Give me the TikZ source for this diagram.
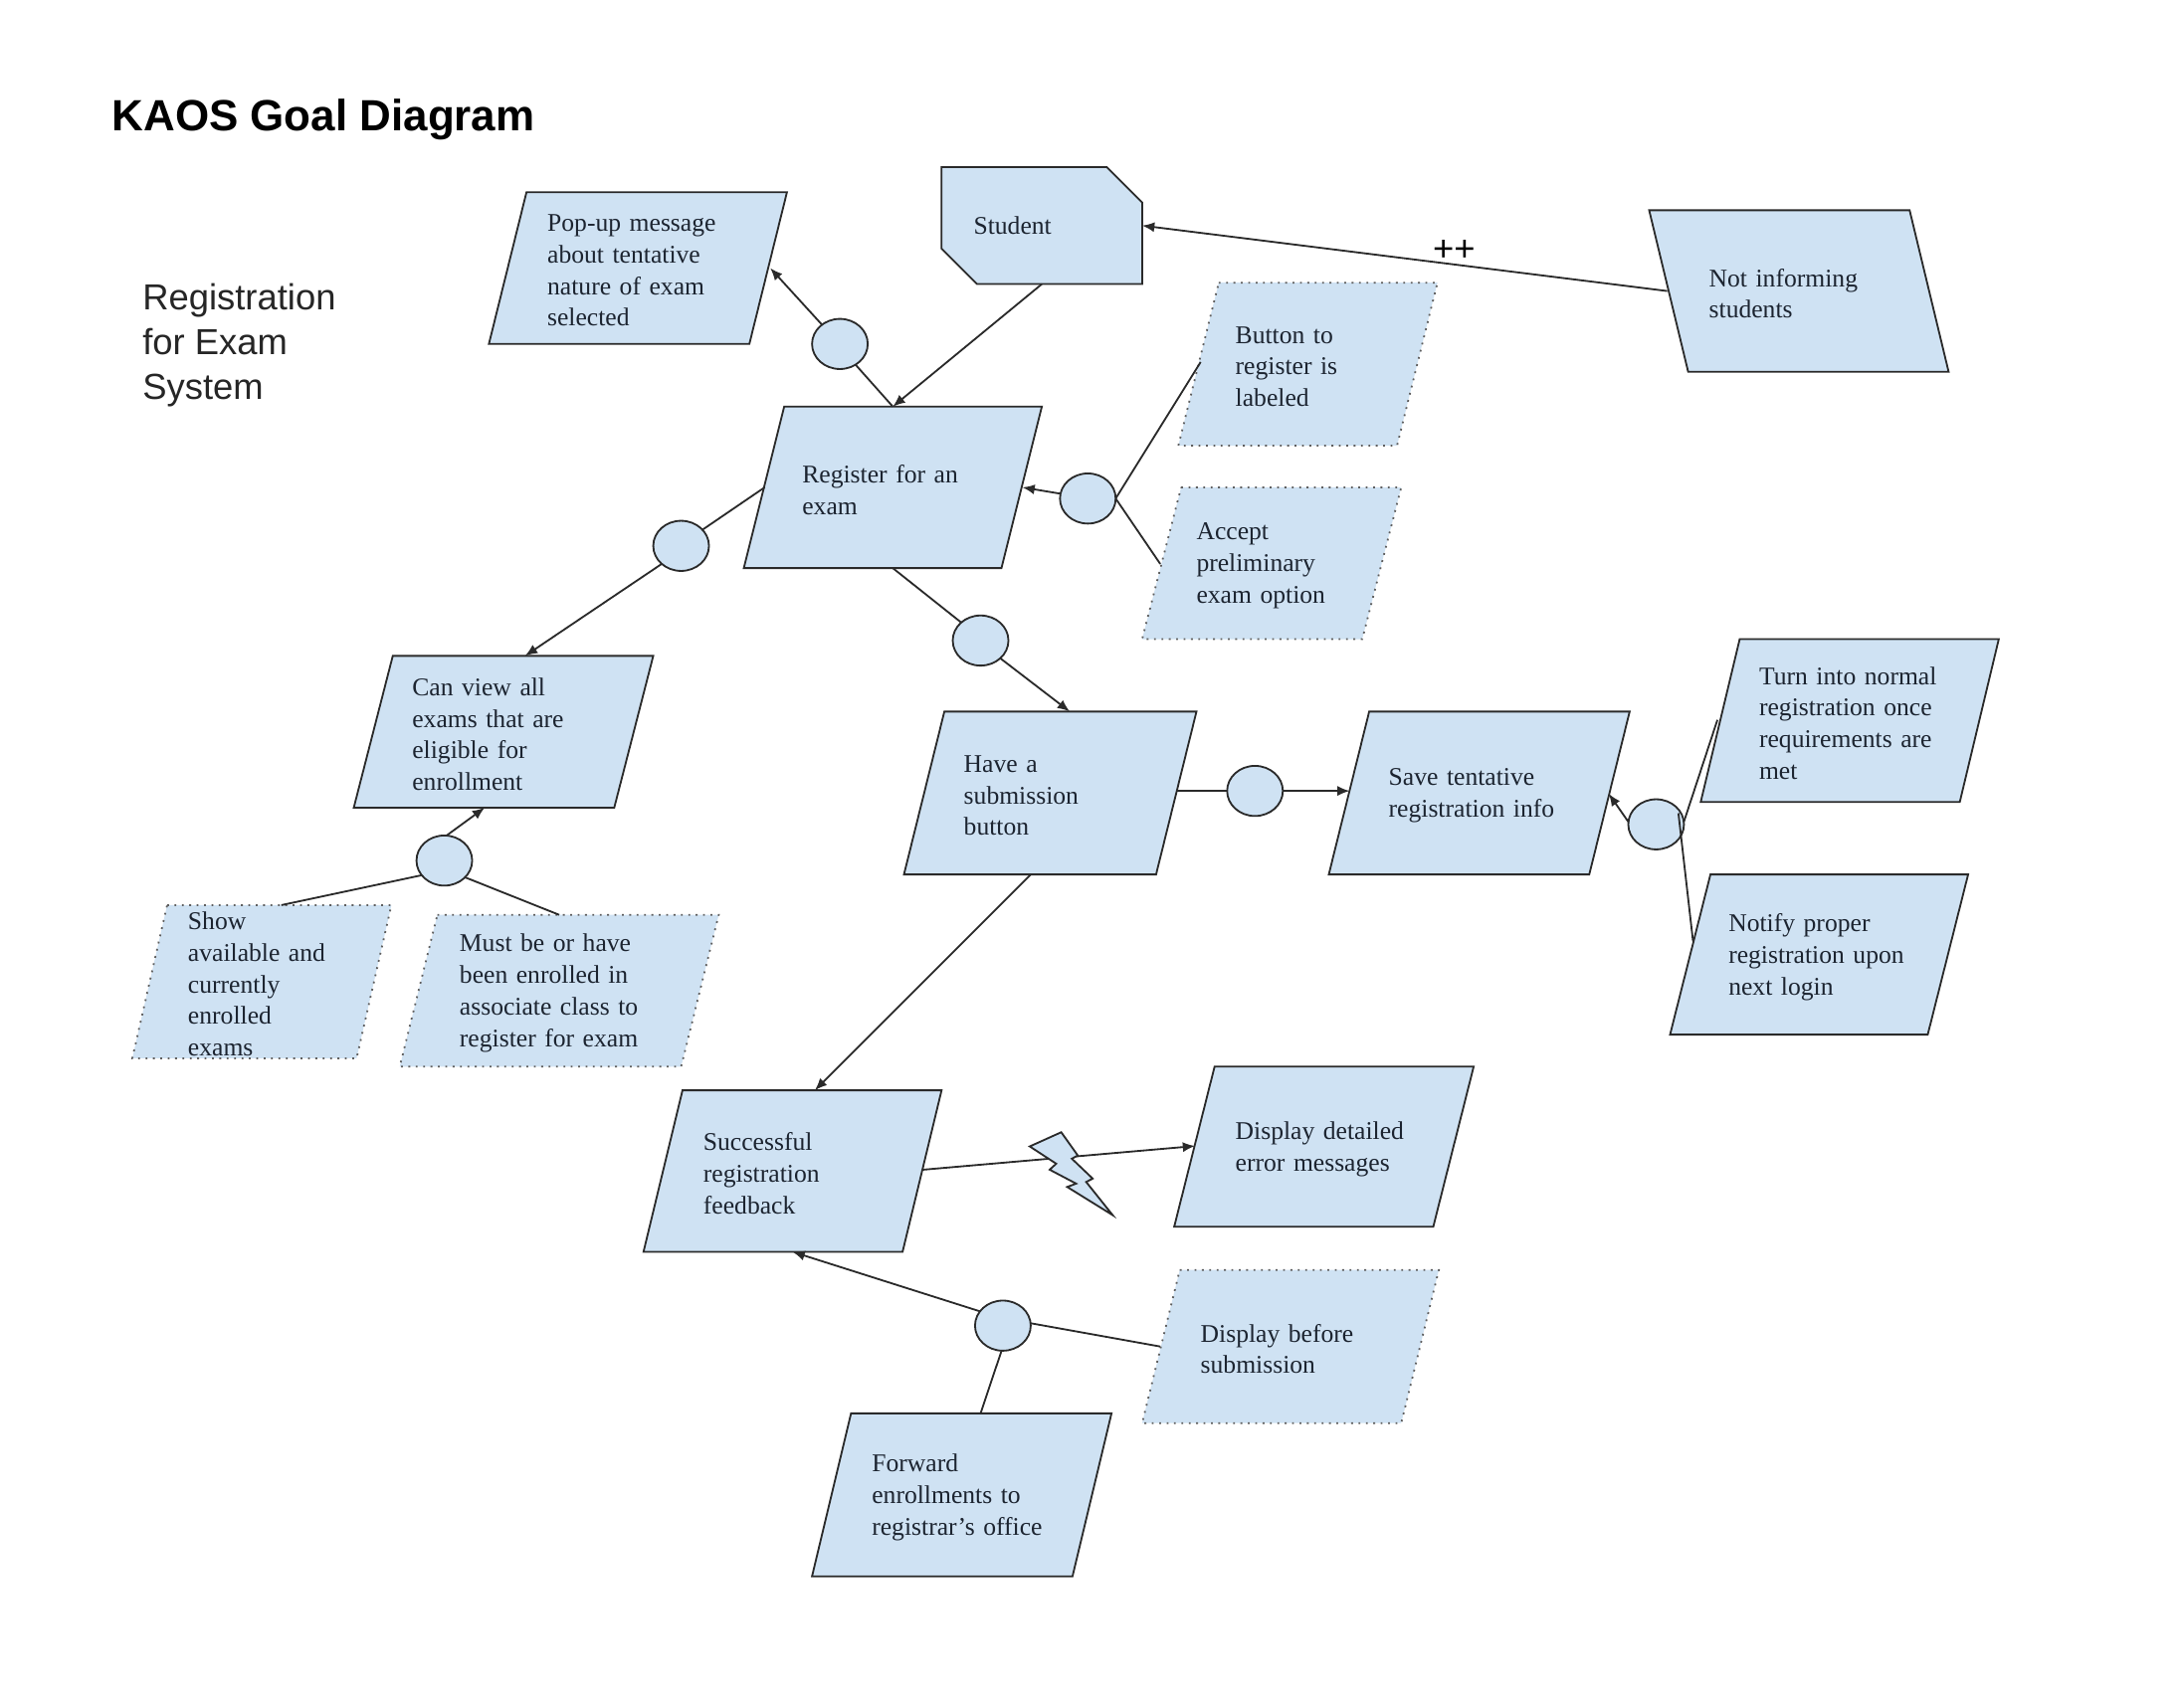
\documentclass[tikz,border=0pt]{standalone}
\usepackage{fontspec}
\setmainfont{Liberation Serif}
\setsansfont{Liberation Sans}
\usetikzlibrary{shapes.geometric,shapes.misc,arrows.meta}
\makeatletter
\newdimen\plgoff \newdimen\plgp \newdimen\plgn
\newdimen\plgxa \newdimen\plgya \newdimen\plgxb \newdimen\plgyb
\def\plgdrop{0.9pt}% the text sits this far below the middle of the box
\tikzset{plg off/.initial=14pt}
\pgfdeclareshape{plgram}{%
  \inheritsavedanchors[from=rectangle]
  \inheritanchorborder[from=rectangle]
  \inheritanchor[from=rectangle]{text}
  \anchor{center}{\southwest\pgf@xa=\pgf@x \pgf@ya=\pgf@y \northeast
    \pgf@x=.5\pgf@x \advance\pgf@x by .5\pgf@xa
    \pgf@y=.5\pgf@y \advance\pgf@y by .5\pgf@ya
    \advance\pgf@y by \plgdrop}
  \anchor{north}{\southwest\pgf@xa=\pgf@x \northeast
    \pgf@x=.5\pgf@x \advance\pgf@x by .5\pgf@xa \advance\pgf@y by \plgdrop}
  \anchor{south}{\northeast\pgf@xa=\pgf@x \southwest
    \pgf@x=.5\pgf@x \advance\pgf@x by .5\pgf@xa \advance\pgf@y by \plgdrop}
  \backgroundpath{%
    \pgfmathsetlength\plgoff{\pgfkeysvalueof{/tikz/plg off}}%
    \ifdim\plgoff>0pt \plgp=\plgoff \plgn=0pt \else \plgp=0pt \plgn=-\plgoff \fi
    \southwest \plgxa=\pgf@x \plgya=\pgf@y
    \northeast \plgxb=\pgf@x \plgyb=\pgf@y
    \advance\plgya by \plgdrop
    \advance\plgyb by \plgdrop
    \advance\plgxa by \plgp
    \pgfpathmoveto{\pgfqpoint{\plgxa}{\plgyb}}%
    \advance\plgxa by -\plgp
    \advance\plgxb by -\plgn
    \pgfpathlineto{\pgfqpoint{\plgxb}{\plgyb}}%
    \advance\plgxb by \plgn
    \advance\plgxb by -\plgp
    \pgfpathlineto{\pgfqpoint{\plgxb}{\plgya}}%
    \advance\plgxa by \plgn
    \pgfpathlineto{\pgfqpoint{\plgxa}{\plgya}}%
    \pgfpathclose
  }%
}
\makeatother
\definecolor{kfill}{HTML}{CFE2F3}
\definecolor{kline}{HTML}{2A2A2A}
\definecolor{ktext}{HTML}{1C2430}
\tikzset{
  u/.style={x=0.5pt,y=-0.5pt},
  pbox/.style n args={4}{shape=plgram,fill=kfill,draw=kline,line width=0.65pt,inner sep=0pt,outer sep=0pt,
    minimum width=#1*0.5pt,minimum height=#2*0.5pt,plg off=#3*0.5pt,text width=#4*0.5pt,align=left,
    text=ktext,font=\fontsize{9.15}{11.35}\selectfont},
  softbox/.style={draw=kline!75,dotted,line width=0.65pt},
  actor/.style={shape=chamfered rectangle,chamfered rectangle corners={north east,south west},
    chamfered rectangle xsep=10pt,chamfered rectangle ysep=9.5pt,fill=kfill,draw=kline,line width=0.65pt,
    inner sep=0pt,outer sep=0pt,minimum width=72pt,minimum height=42pt,text width=49pt,align=left,
    text=ktext,font=\fontsize{9.15}{11.35}\selectfont},
  refine/.style={shape=ellipse,fill=kfill,draw=kline,line width=0.65pt,inner sep=0pt,outer sep=0pt,
    minimum width=20pt,minimum height=18pt},
  link/.style={draw=kline,line width=0.65pt},
  arrow/.style={link,-{Latex[length=4.4pt,width=3.6pt]}},
  heading/.style={anchor=west,inner sep=0pt,font=\sffamily\bfseries\fontsize{15.7}{19}\selectfont},
  sidenote/.style={anchor=west,inner sep=0pt,align=left,text=black!85,font=\sffamily\fontsize{13}{16}\selectfont},
}
\begin{document}
\begin{tikzpicture}[u]
\useasboundingbox (0,0) rectangle (1568,1215);
\fill[white] (0,0) rectangle (1568,1215);

\node[heading] (title) at (80,86) {KAOS Goal Diagram};
\node[sidenote] (system) at (102,248) {Registration\\for Exam\\System};

% goals
\node[pbox={214}{109}{27}{130}] (pop) at (458,192.5) {Pop-up message\\about tentative\\nature of exam\\selected};
\node[actor] (stu) at (748,162) {Student};
\node[pbox={214}{116}{29}{130}] (reg) at (641,350) {Register for an\\exam};
\node[pbox={186}{117}{29}{104},softbox] (btn) at (939,261.5) {Button to\\register is\\labeled};
\node[pbox={186}{109}{28}{108},softbox] (acc) at (913,404.5) {Accept\\preliminary\\exam option};
\node[pbox={215}{116}{-28}{129}] (not) at (1291.5,209) {Not informing\\students};
\node[pbox={215}{109}{28}{131}] (can) at (361.5,525.5) {Can view all\\exams that are\\eligible for\\enrollment};
\node[pbox={210}{117}{29}{124}] (have) at (754,569.5) {Have a\\submission\\button};
\node[pbox={216}{117}{29}{130}] (save) at (1062,569.5) {Save tentative\\registration info};
\node[pbox={214}{117}{28}{130}] (turn) at (1328,517.5) {Turn into normal\\registration once\\requirements are\\met};
\node[pbox={214}{115}{29}{130}] (noti) at (1306,685.5) {Notify proper\\registration upon\\next login};
\node[pbox={186}{110}{25}{106},softbox] (show) at (188,705) {Show\\available and\\currently\\enrolled\\exams};
\node[pbox={229}{109}{27}{143},softbox] (must) at (401.5,711.5) {Must be or have\\been enrolled in\\associate class to\\register for exam};
\node[pbox={214}{116}{28}{128}] (succ) at (569,841) {Successful\\registration\\feedback};
\node[pbox={215}{115}{29}{127}] (ddet) at (950.5,823.5) {Display detailed\\error messages};
\node[pbox={213}{110}{27}{129},softbox] (dbef) at (926.5,967) {Display before\\submission};
\node[pbox={215}{117}{28}{129}] (forw) at (690.5,1073.5) {Forward\\enrollments to\\registrar's office};

% refinement circles
\node[refine] (c1) at (603,247) {};
\node[refine] (c2) at (781,358) {};
\node[refine] (c3) at (489,392) {};
\node[refine] (c4) at (704,460) {};
\node[refine] (c5) at (901,568) {};
\node[refine] (c6) at (319,618) {};
\node[refine] (c7) at (1189,592) {};
\node[refine] (c8) at (720,952) {};

% connectors
\draw[arrow] (c1.133) -- ([shift={(95,0)}]pop.center);
\draw[link] (reg.north) -- (c1.-53);
\draw[arrow] (stu.south) -- (reg.north);
\draw[arrow] ([shift={(-94.5,0)}]not.center) -- (stu.east);
\draw[arrow] (c2.170) -- ([shift={(93,0)}]reg.center);
\draw[link] ([shift={(-77,-1.5)}]btn.center) -- (c2.0);
\draw[link] ([shift={(-80,0.5)}]acc.center) -- (c2.0);
\draw[link] ([shift={(-92,0)}]reg.center) -- (c3.37);
\draw[arrow] (c3.-137) -- ([shift={(15.5,-54.5)}]can.center);
\draw[link] (reg.south) -- (c4.137);
\draw[arrow] (c4.-42) -- ([shift={(14,-58.5)}]have.center);
\draw[link] ([shift={(91,-1.5)}]have.center) -- (c5.180);
\draw[arrow] (c5.0) -- ([shift={(-93,-1.5)}]save.center);
\draw[arrow] (c7.175) -- ([shift={(93,0.5)}]save.center);
\draw[link] ([shift={(-95,-0.5)}]turn.center) -- (c7.5);
\draw[link] ([shift={(-90.5,-9.5)}]noti.center) -- ([shift={(16,-8)}]c7.center);
\draw[arrow] (c6.85) -- ([shift={(-13.5,54.5)}]can.center);
\draw[link] ([shift={(14,-55)}]show.center) -- (c6.213);
\draw[link] (must.north) -- (c6.-39);
\draw[arrow] ([shift={(-14,58.5)}]have.center) -- ([shift={(16,-58)}]succ.center);
\draw[arrow] ([shift={(94,-1)}]succ.center) -- ([shift={(-92.5,-0.5)}]ddet.center);
\draw[arrow] (c8.148) -- (succ.south);
\draw[link] ([shift={(-93.5,0)}]dbef.center) -- (c8.5);
\draw[link] ([shift={(13.5,-58.5)}]forw.center) -- (c8.-93);

% obstacle bolt
\filldraw[fill=kfill,draw=kline,line width=0.65pt,line join=miter]
  (761.9,813.1) -- (773.8,829.8) -- (769.5,832.1) -- (784.5,846.4) -- (779.8,848.8) -- (798.8,872.6)
  -- (766.2,852.4) -- (772.6,850) -- (753.6,840) -- (758.3,835.7) -- (739.3,823.3) -- cycle;

\node[inner sep=0pt,font=\sffamily\fontsize{13}{15}\selectfont] (plus) at (1044,180) {++};
\end{tikzpicture}
\end{document}
